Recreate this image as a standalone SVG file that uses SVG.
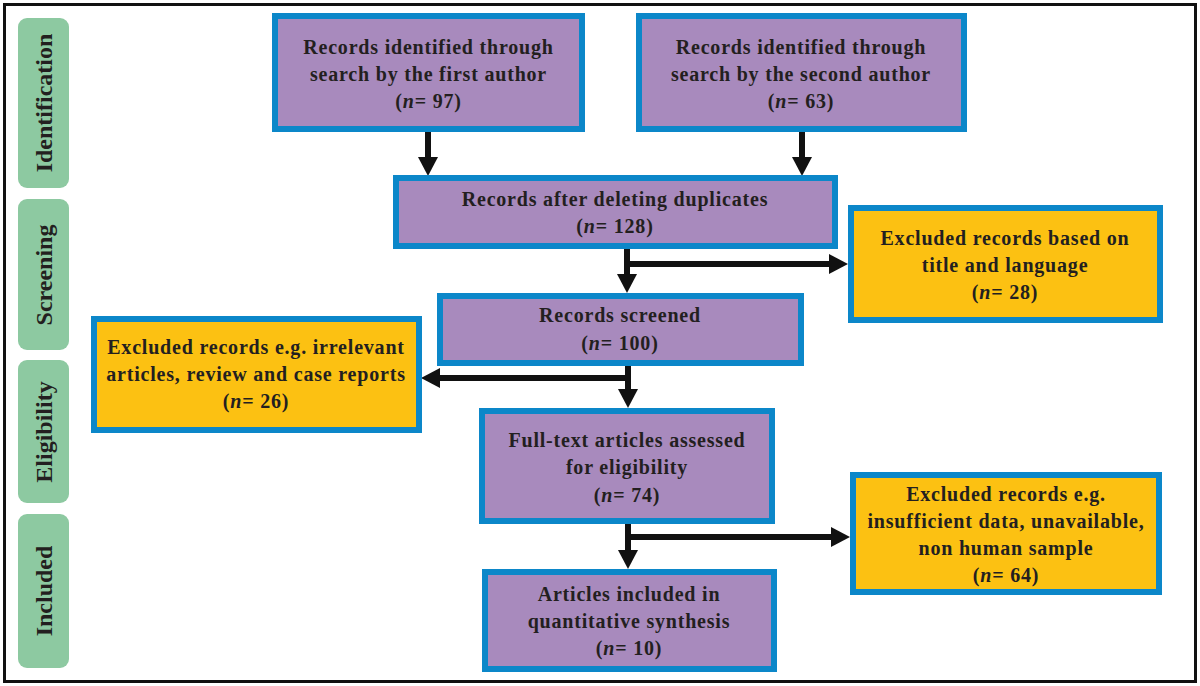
<svg xmlns="http://www.w3.org/2000/svg" width="1200" height="686" viewBox="0 0 1200 686">
<defs>
<style>
.box{stroke:#0C87C9;stroke-width:6}
.p{fill:#A88ABD}
.y{fill:#FCC112}
.phase{fill:#8DC9A1}
.t{font-family:"Liberation Serif","Times New Roman",serif;font-weight:bold;font-size:20px;fill:#231F20;text-anchor:middle;letter-spacing:0.8px}
.ph{font-family:"Liberation Serif","Times New Roman",serif;font-weight:bold;font-size:24px;fill:#231F20;text-anchor:middle}
.c{stroke:#111;stroke-width:6;fill:none}
</style>
<marker id="ah" markerUnits="userSpaceOnUse" markerWidth="20" markerHeight="20" viewBox="0 0 20 20" refX="9" refY="10" orient="auto">
<path d="M0,0 L19,10 L0,20 z" fill="#111"/>
</marker>
</defs>
<rect x="0" y="0" width="1200" height="686" fill="#fff"/>
<rect x="4.5" y="4.5" width="1191" height="677" fill="#fff" stroke="#111" stroke-width="3"/>

<g id="phase-identification"><rect class="phase" x="18" y="18" width="51" height="170" rx="9"/><text class="ph" transform="translate(52,103) rotate(-90)">Identification</text></g>
<g id="phase-screening"><rect class="phase" x="18" y="199" width="51" height="151" rx="9"/><text class="ph" transform="translate(52,275) rotate(-90)">Screening</text></g>
<g id="phase-eligibility"><rect class="phase" x="18" y="360" width="51" height="143" rx="9"/><text class="ph" transform="translate(52,432) rotate(-90)">Eligibility</text></g>
<g id="phase-included"><rect class="phase" x="18" y="514" width="51" height="154" rx="9"/><text class="ph" transform="translate(52,591) rotate(-90)">Included</text></g>

<g id="connectors">
<line class="c" x1="428" y1="132" x2="428" y2="166" marker-end="url(#ah)"/>
<line class="c" x1="802" y1="132" x2="802" y2="166" marker-end="url(#ah)"/>
<line class="c" x1="627" y1="249" x2="627" y2="283" marker-end="url(#ah)"/>
<line class="c" x1="624" y1="264" x2="838" y2="264" marker-end="url(#ah)"/>
<line class="c" x1="628" y1="366" x2="628" y2="398" marker-end="url(#ah)"/>
<line class="c" x1="631" y1="378" x2="431" y2="378" marker-end="url(#ah)"/>
<line class="c" x1="628" y1="524" x2="628" y2="559" marker-end="url(#ah)"/>
<line class="c" x1="625" y1="537" x2="840" y2="537" marker-end="url(#ah)"/>
</g>

<g id="n1"><rect class="box p" x="275" y="16" width="307" height="113"/>
<text class="t" x="428.5" y="54">Records identified through</text>
<text class="t" x="428.5" y="81">search by the first author</text>
<text class="t" x="428.5" y="108">(<tspan font-style="italic">n</tspan>= 97)</text></g>

<g id="n2"><rect class="box p" x="639" y="16" width="325" height="113"/>
<text class="t" x="801" y="54">Records identified through</text>
<text class="t" x="801" y="81">search by the second author</text>
<text class="t" x="801" y="108">(<tspan font-style="italic">n</tspan>= 63)</text></g>

<g id="n3"><rect class="box p" x="396" y="178" width="439" height="68"/>
<text class="t" x="615" y="206">Records after deleting duplicates</text>
<text class="t" x="615" y="233">(<tspan font-style="italic">n</tspan>= 128)</text></g>

<g id="e1"><rect class="box y" x="851" y="208" width="309" height="112"/>
<text class="t" x="1005" y="245">Excluded records based on</text>
<text class="t" x="1005" y="272">title and language</text>
<text class="t" x="1005" y="299">(<tspan font-style="italic">n</tspan>= 28)</text></g>

<g id="n4"><rect class="box p" x="440" y="296" width="361" height="67"/>
<text class="t" x="620" y="322">Records screened</text>
<text class="t" x="620" y="350">(<tspan font-style="italic">n</tspan>= 100)</text></g>

<g id="e2"><rect class="box y" x="94" y="319" width="325" height="111"/>
<text class="t" x="256" y="354">Excluded records e.g. irrelevant</text>
<text class="t" x="256" y="381">articles, review and case reports</text>
<text class="t" x="256" y="408">(<tspan font-style="italic">n</tspan>= 26)</text></g>

<g id="n5"><rect class="box p" x="482" y="411" width="290" height="110"/>
<text class="t" x="627" y="447">Full-text articles assessed</text>
<text class="t" x="627" y="474">for eligibility</text>
<text class="t" x="627" y="502">(<tspan font-style="italic">n</tspan>= 74)</text></g>

<g id="e3"><rect class="box y" x="853" y="475" width="306" height="117"/>
<text class="t" x="1006" y="501">Excluded records e.g.</text>
<text class="t" x="1006" y="528">insufficient data, unavailable,</text>
<text class="t" x="1006" y="555">non human sample</text>
<text class="t" x="1006" y="582">(<tspan font-style="italic">n</tspan>= 64)</text></g>

<g id="n6"><rect class="box p" x="485" y="572" width="289" height="97"/>
<text class="t" x="629" y="601">Articles included in</text>
<text class="t" x="629" y="628">quantitative synthesis</text>
<text class="t" x="629" y="655">(<tspan font-style="italic">n</tspan>= 10)</text></g>
</svg>
